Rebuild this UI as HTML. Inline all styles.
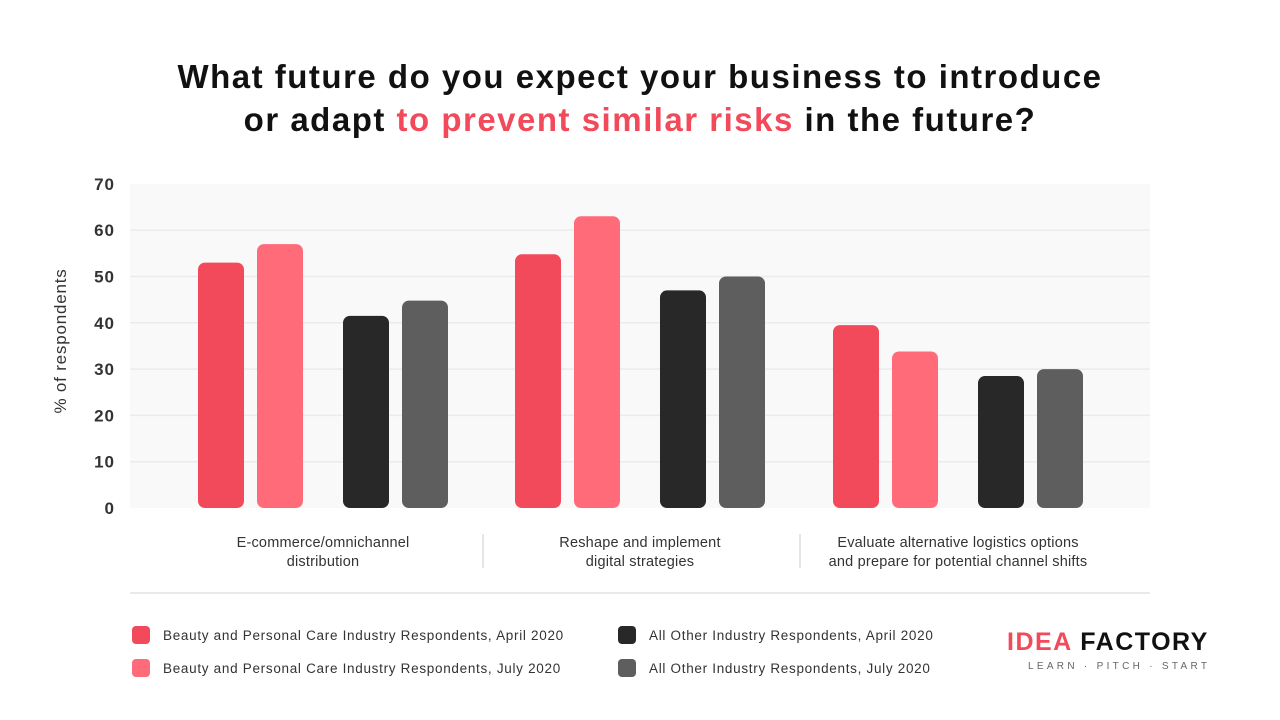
<!DOCTYPE html>
<html><head><meta charset="utf-8"><style>
body{margin:0;width:1280px;height:720px;background:#fff;overflow:hidden;position:relative;font-family:"Liberation Sans",sans-serif}
.t{position:absolute;white-space:nowrap}
</style></head><body>
<div class="t" style="left:0;width:1280px;top:55px;text-align:center;font-size:33px;font-weight:bold;line-height:43px;color:#111;letter-spacing:1.5px">What future do you expect your business to introduce<br>or adapt <span style="color:#f24a5a">to prevent similar risks</span> in the future?</div>
<svg id="chart" width="1280" height="720" style="position:absolute;left:0;top:0"></svg>
<div class="t" style="left:1007px;top:628px;font-size:25px;font-weight:bold;letter-spacing:1.5px"><span style="color:#f24a5a">IDEA</span> <span style="color:#111">FACTORY</span></div>
<div class="t" style="left:1028px;top:661px;font-size:10px;letter-spacing:3.3px;color:#666">LEARN · PITCH · START</div>
<script>
const categories=[["E-commerce/omnichannel","distribution"],["Reshape and implement","digital strategies"],["Evaluate alternative logistics options","and prepare for potential channel shifts"]];
const seriesNames=["Beauty and Personal Care Industry Respondents, April 2020","Beauty and Personal Care Industry Respondents, July 2020","All Other Industry Respondents, April 2020","All Other Industry Respondents, July 2020"];
const beautyApr=[53,54.8,39.5];
const beautyJul=[57,63,33.8];
const otherApr=[41.5,47,28.5];
const otherJul=[44.8,50,30];
const yTicks=[0,10,20,30,40,50,60,70];
const colors=["#f24a5a","#ff6b78","#282828","#5e5e5e"];
const series=[beautyApr,beautyJul,otherApr,otherJul];
const svg=document.getElementById('chart');const NS='http://www.w3.org/2000/svg';
function mk(t,a,p){const e=document.createElementNS(NS,t);for(const k in a)e.setAttribute(k,a[k]);(p||svg).appendChild(e);return e;}
const y0=508,pxPer=4.63;const y=v=>y0-v*pxPer;
const plotL=130,plotR=1150;
const bg=mk('rect',{x:plotL,y:y(70),width:plotR-plotL,height:y0-y(70),fill:'#f9f9f9'});


yTicks.forEach(t=>{
 if(t>0&&t<70){const g=mk('line',{x1:plotL,x2:plotR,y1:y(t),y2:y(t),stroke:'#ebebeb','stroke-width':1.5});
 
 }
 const l=mk('text',{x:115,y:y(t)+6,'text-anchor':'end','font-size':17,'font-weight':'bold',fill:'#333','letter-spacing':1});l.textContent=t;
 
 
});
const yt=mk('text',{transform:'translate(66,341) rotate(-90)','text-anchor':'middle','font-size':17,fill:'#333','letter-spacing':0.8});yt.textContent='% of respondents';


const groupStart=[198,515,833];const offs=[0,59,145,204];const bw=46;
categories.forEach((c,i)=>{
 series.forEach((s,j)=>{
  const r=mk('rect',{x:groupStart[i]+offs[j],y:y(s[i]),width:bw,height:y0-y(s[i]),rx:7,fill:colors[j]});
  
  
 });
 const cx=groupStart[i]+(offs[3]+bw)/2;
 c.forEach((ln,k)=>{const t=mk('text',{x:cx,y:547+k*19,'text-anchor':'middle','font-size':14.5,fill:'#333','letter-spacing':0.2});t.textContent=ln;
  
  });
});
[483,800].forEach(x=>{const d=mk('line',{x1:x,x2:x,y1:534,y2:568,stroke:'#ddd','stroke-width':1.5});
 
 });
const sep=mk('line',{x1:plotL,x2:plotR,y1:593,y2:593,stroke:'#e2e2e2','stroke-width':1.5});


const legPos=[[132,626],[132,659],[618,626],[618,659]];
seriesNames.forEach((n,j)=>{
 const [lx,ly]=legPos[j];
 const s=mk('rect',{x:lx,y:ly,width:18,height:18,rx:4,fill:colors[j]});
 
 
 const t=mk('text',{x:lx+31,y:ly+14,'font-size':13.5,fill:'#333','letter-spacing':0.7});t.textContent=n;
 
 
});
</script>
</body></html>
